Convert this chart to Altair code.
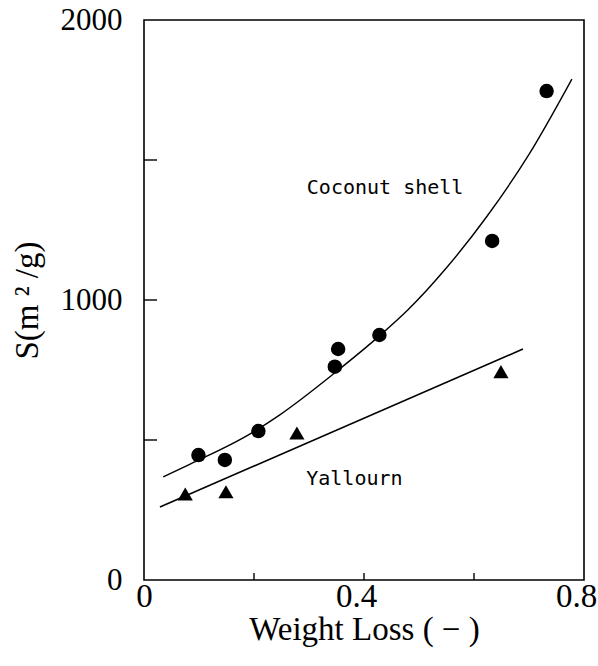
import altair as alt
import pandas as pd

# Coconut shell measurements (circles)
coco_x = [0.099, 0.147, 0.208, 0.347, 0.353, 0.428, 0.633, 0.732]
coco_y = [446, 429, 532, 762, 825, 875, 1211, 1746]

# Yallourn measurements (triangles)
yal_x = [0.075, 0.149, 0.278, 0.649]
yal_y = [307, 315, 525, 744]

# Coconut shell fitted curve
coco_fit_x = [0.035, 0.084, 0.193, 0.247, 0.347, 0.427, 0.480, 0.550, 0.624, 0.700, 0.778]
coco_fit_y = [368, 414, 522, 590, 740, 870, 965, 1115, 1300, 1520, 1789]

# Yallourn fitted straight line (end points)
yal_fit_x = [0.029, 0.689]
yal_fit_y = [261, 825]

# Axis labels / minor ticks
x_label_values = [0, 0.4, 0.8]
y_label_values = [0, 1000, 2000]
x_minor_ticks = [0.2, 0.4, 0.6]
y_minor_ticks = [500, 1000, 1500]

# Annotations
ann_text = ["Coconut shell", "Yallourn"]
ann_x = [0.296, 0.295]
ann_y = [1400, 361]

W, H = 440, 560

xs = alt.Scale(domain=[0, 0.8], nice=False, zero=False)
ys = alt.Scale(domain=[0, 2000], nice=False, zero=False)

x_axis = alt.Axis(values=x_label_values, format=".1~f", title="Weight Loss ( − )",
                  grid=False, ticks=False, domain=False, labelFlush=False,
                  labelFont="Liberation Serif", labelFontSize=33, labelColor="black",
                  labelPadding=0,
                  labelOffset={"condition": {"test": "datum.value > 0.1", "value": -8}, "value": 0},
                  titleFont="Liberation Serif", titleFontSize=33,
                  titleFontWeight="normal", titleColor="black", titlePadding=0)
y_axis = alt.Axis(values=y_label_values, format="d", title="S(m ² /g)",
                  grid=False, ticks=False, domain=False, labelFlush=False,
                  labelFont="Liberation Serif", labelFontSize=31, labelColor="black",
                  labelPadding=22, titleFont="Liberation Serif", titleFontSize=33,
                  titleFontWeight="normal", titleColor="black", titlePadding=16)

coco_df = pd.DataFrame({"x": coco_x, "y": coco_y})
yal_df = pd.DataFrame({"x": yal_x, "y": yal_y})
coco_fit_df = pd.DataFrame({"x": coco_fit_x, "y": coco_fit_y})
yal_fit_df = pd.DataFrame({"x": yal_fit_x, "y": yal_fit_y})
ann_df = pd.DataFrame({"t": ann_text, "x": ann_x, "y": ann_y})
xt_df = pd.DataFrame({"x": x_minor_ticks})
yt_df = pd.DataFrame({"y": y_minor_ticks})

base_x = alt.X("x:Q", scale=xs, axis=x_axis)
base_y = alt.Y("y:Q", scale=ys, axis=y_axis)

coco_line = alt.Chart(coco_fit_df).mark_line(color="black", strokeWidth=1.4, interpolate="monotone").encode(
    x=base_x, y=base_y)
yal_line = alt.Chart(yal_fit_df).mark_line(color="black", strokeWidth=1.6).encode(
    x=alt.X("x:Q", scale=xs), y=alt.Y("y:Q", scale=ys))
coco_pts = alt.Chart(coco_df).mark_point(shape="circle", filled=True, color="black", size=210, opacity=1).encode(
    x=alt.X("x:Q", scale=xs), y=alt.Y("y:Q", scale=ys))
yal_pts = alt.Chart(yal_df).mark_point(shape="triangle-up", filled=True, color="black", size=230, opacity=1).encode(
    x=alt.X("x:Q", scale=xs), y=alt.Y("y:Q", scale=ys))
ann = alt.Chart(ann_df).mark_text(align="left", baseline="middle", font="DejaVu Sans Mono",
                                  fontSize=20, color="black").encode(
    x=alt.X("x:Q", scale=xs), y=alt.Y("y:Q", scale=ys), text="t:N")
xticks = alt.Chart(xt_df).mark_rule(color="black", strokeWidth=1.4).encode(
    x=alt.X("x:Q", scale=xs), y=alt.value(H), y2=alt.value(H - 7))
yticks = alt.Chart(yt_df).mark_rule(color="black", strokeWidth=1.4).encode(
    y=alt.Y("y:Q", scale=ys), x=alt.value(0), x2=alt.value(13))

chart = alt.layer(coco_line, yal_line, coco_pts, yal_pts, ann, xticks, yticks).properties(
    width=W, height=H,
    autosize=alt.AutoSizeParams(type="none"),
    padding={"left": 144, "top": 20, "right": 14, "bottom": 86},
    background="white",
).configure_view(stroke="black", strokeWidth=1.6)

chart.save("out.html", embed_options={"renderer": "svg", "actions": False})
